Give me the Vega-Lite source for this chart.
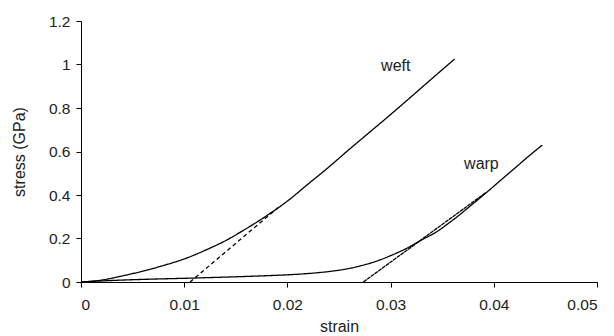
{
  "$schema": "https://vega.github.io/schema/vega-lite/v6.json",
  "width": 516,
  "height": 261,
  "autosize": "none",
  "padding": {"left": 81, "top": 21, "right": 17, "bottom": 54},
  "background": "white",
  "config": {
    "view": {"stroke": null},
    "font": "Liberation Sans",
    "axis": {
      "grid": false,
      "domainColor": "#000",
      "tickColor": "#000",
      "labelColor": "#222",
      "titleColor": "#222",
      "labelFontSize": 15.5,
      "titleFontSize": 16,
      "titleFontWeight": "normal"
    }
  },
  "datasets": {
    "curves": [
      {"series": "weft", "style": "solid", "strain": 0.0, "stress": 0.0},
      {"series": "weft", "style": "solid", "strain": 0.002, "stress": 0.009},
      {"series": "weft", "style": "solid", "strain": 0.004, "stress": 0.028},
      {"series": "weft", "style": "solid", "strain": 0.006, "stress": 0.05},
      {"series": "weft", "style": "solid", "strain": 0.008, "stress": 0.076},
      {"series": "weft", "style": "solid", "strain": 0.010, "stress": 0.106},
      {"series": "weft", "style": "solid", "strain": 0.012, "stress": 0.145},
      {"series": "weft", "style": "solid", "strain": 0.014, "stress": 0.19},
      {"series": "weft", "style": "solid", "strain": 0.016, "stress": 0.245},
      {"series": "weft", "style": "solid", "strain": 0.018, "stress": 0.305},
      {"series": "weft", "style": "solid", "strain": 0.020, "stress": 0.372},
      {"series": "weft", "style": "solid", "strain": 0.022, "stress": 0.45},
      {"series": "weft", "style": "solid", "strain": 0.024, "stress": 0.528},
      {"series": "weft", "style": "solid", "strain": 0.026, "stress": 0.61},
      {"series": "weft", "style": "solid", "strain": 0.028, "stress": 0.69},
      {"series": "weft", "style": "solid", "strain": 0.030, "stress": 0.77},
      {"series": "weft", "style": "solid", "strain": 0.032, "stress": 0.852},
      {"series": "weft", "style": "solid", "strain": 0.034, "stress": 0.935},
      {"series": "weft", "style": "solid", "strain": 0.0362, "stress": 1.025},
      {"series": "weft unload", "style": "dash", "strain": 0.01056, "stress": 0.0},
      {"series": "weft unload", "style": "dash", "strain": 0.0193, "stress": 0.35},
      {"series": "warp", "style": "solid", "strain": 0.0, "stress": 0.0},
      {"series": "warp", "style": "solid", "strain": 0.003, "stress": 0.007},
      {"series": "warp", "style": "solid", "strain": 0.006, "stress": 0.012},
      {"series": "warp", "style": "solid", "strain": 0.010, "stress": 0.017},
      {"series": "warp", "style": "solid", "strain": 0.015, "stress": 0.024},
      {"series": "warp", "style": "solid", "strain": 0.018, "stress": 0.029},
      {"series": "warp", "style": "solid", "strain": 0.020, "stress": 0.033},
      {"series": "warp", "style": "solid", "strain": 0.022, "stress": 0.039},
      {"series": "warp", "style": "solid", "strain": 0.024, "stress": 0.048},
      {"series": "warp", "style": "solid", "strain": 0.0255, "stress": 0.058},
      {"series": "warp", "style": "solid", "strain": 0.027, "stress": 0.073},
      {"series": "warp", "style": "solid", "strain": 0.028, "stress": 0.086},
      {"series": "warp", "style": "solid", "strain": 0.029, "stress": 0.102},
      {"series": "warp", "style": "solid", "strain": 0.030, "stress": 0.121},
      {"series": "warp", "style": "solid", "strain": 0.031, "stress": 0.142},
      {"series": "warp", "style": "solid", "strain": 0.032, "stress": 0.166},
      {"series": "warp", "style": "solid", "strain": 0.033, "stress": 0.193},
      {"series": "warp", "style": "solid", "strain": 0.0345, "stress": 0.232},
      {"series": "warp", "style": "solid", "strain": 0.0355, "stress": 0.266},
      {"series": "warp", "style": "solid", "strain": 0.0365, "stress": 0.302},
      {"series": "warp", "style": "solid", "strain": 0.0375, "stress": 0.341},
      {"series": "warp", "style": "solid", "strain": 0.0385, "stress": 0.38},
      {"series": "warp", "style": "solid", "strain": 0.0393, "stress": 0.412},
      {"series": "warp", "style": "solid", "strain": 0.0406, "stress": 0.465},
      {"series": "warp", "style": "solid", "strain": 0.042, "stress": 0.522},
      {"series": "warp", "style": "solid", "strain": 0.0433, "stress": 0.575},
      {"series": "warp", "style": "solid", "strain": 0.0447, "stress": 0.63},
      {"series": "warp unload", "style": "fine", "strain": 0.02736, "stress": 0.0},
      {"series": "warp unload", "style": "fine", "strain": 0.0392, "stress": 0.41}
    ],
    "labels": [
      {"text": "weft", "strain": 0.0305, "stress": 0.993},
      {"text": "warp", "strain": 0.0388, "stress": 0.543}
    ]
  },
  "layer": [
    {
      "data": {"name": "curves"},
      "mark": {"type": "line", "color": "#000", "strokeWidth": 1.3, "interpolate": "monotone"},
      "encoding": {
        "x": {
          "field": "strain", "type": "quantitative",
          "scale": {"domain": [0, 0.05], "nice": false, "zero": false},
          "axis": {"values": [0, 0.01, 0.02, 0.03, 0.04, 0.05], "format": "~g", "title": "strain", "tickSize": 5, "labelPadding": 10, "titlePadding": 6}
        },
        "y": {
          "field": "stress", "type": "quantitative",
          "scale": {"domain": [0, 1.2], "nice": false},
          "axis": {"values": [0, 0.2, 0.4, 0.6, 0.8, 1, 1.2], "format": "~g", "title": "stress (GPa)", "tickSize": 5, "labelPadding": 6, "titlePadding": 21}
        },
        "detail": {"field": "series"},
        "strokeDash": {
          "field": "style", "type": "nominal",
          "scale": {"domain": ["solid", "dash", "fine"], "range": [[1, 0], [4, 3], [4, 0.6]]},
          "legend": null
        },
        "strokeWidth": {
          "field": "style", "type": "nominal",
          "scale": {"domain": ["solid", "dash", "fine"], "range": [1.3, 1.2, 1.6]},
          "legend": null
        }
      }
    },
    {
      "data": {"name": "labels"},
      "mark": {"type": "text", "fontSize": 16, "color": "#222", "font": "Liberation Sans"},
      "encoding": {
        "x": {"field": "strain", "type": "quantitative"},
        "y": {"field": "stress", "type": "quantitative"},
        "text": {"field": "text"}
      }
    }
  ]
}
